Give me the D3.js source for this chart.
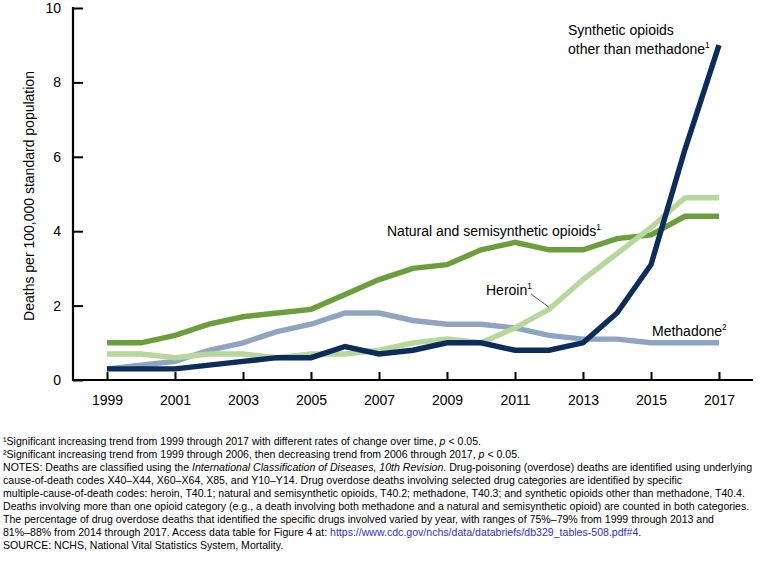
<!DOCTYPE html>
<html>
<head>
<meta charset="utf-8">
<script src="https://cdn.jsdelivr.net/npm/d3@7"></script>
<style>
  html, body { margin: 0; padding: 0; background: #fff; }
  svg { display: block; font-family: "Liberation Sans", Arial, sans-serif; }
</style>
</head>
<body>
<svg id="chart" width="760" height="561"></svg>
<script>
// ---- data ----
const years = [1999,2000,2001,2002,2003,2004,2005,2006,2007,2008,2009,2010,2011,2012,2013,2014,2015,2016,2017];
const methadone = [0.3,0.4,0.5,0.8,1.0,1.3,1.5,1.8,1.8,1.6,1.5,1.5,1.4,1.2,1.1,1.1,1.0,1.0,1.0];
const natural   = [1.0,1.0,1.2,1.5,1.7,1.8,1.9,2.3,2.7,3.0,3.1,3.5,3.7,3.5,3.5,3.8,3.9,4.4,4.4];
const heroin    = [0.7,0.7,0.6,0.7,0.7,0.6,0.7,0.7,0.8,1.0,1.1,1.0,1.4,1.9,2.7,3.4,4.1,4.9,4.9];
const synthetic = [0.3,0.3,0.3,0.4,0.5,0.6,0.6,0.9,0.7,0.8,1.0,1.0,0.8,0.8,1.0,1.8,3.1,6.2,9.0];
const xTickYears = [1999,2001,2003,2005,2007,2009,2011,2013,2015,2017];
const yTickValues = [0,2,4,6,8,10];
const yTitle = "Deaths per 100,000 standard population";
const seriesNames = ["Methadone","Natural and semisynthetic opioids","Heroin","Synthetic opioids other than methadone"];

const footnotes = [
  [["\u00B9Significant increasing trend from 1999 through 2017 with different rates of change over time, ",""],["p","i"],[" < 0.05.",""]],
  [["\u00B2Significant increasing trend from 1999 through 2006, then decreasing trend from 2006 through 2017, ",""],["p","i"],[" < 0.05.",""]],
  [["NOTES: Deaths are classified using the ",""],["International Classification of Diseases, 10th Revision","i"],[". Drug-poisoning (overdose) deaths are identified using underlying",""]],
  [["cause-of-death codes X40\u2013X44, X60\u2013X64, X85, and Y10\u2013Y14. Drug overdose deaths involving selected drug categories are identified by specific",""]],
  [["multiple-cause-of-death codes: heroin, T40.1; natural and semisynthetic opioids, T40.2; methadone, T40.3; and synthetic opioids other than methadone, T40.4.",""]],
  [["Deaths involving more than one opioid category (e.g., a death involving both methadone and a natural and semisynthetic opioid) are counted in both categories.",""]],
  [["The percentage of drug overdose deaths that identified the specific drugs involved varied by year, with ranges of 75%\u201379% from 1999 through 2013 and",""]],
  [["81%\u201388% from 2014 through 2017. Access data table for Figure 4 at: ",""],["https://www.cdc.gov/nchs/data/databriefs/db329_tables-508.pdf#4","l"],[".",""]],
  [["SOURCE: NCHS, National Vital Statistics System, Mortality.",""]]
];

// ---- layout ----
const svg = d3.select("#chart");
const x = d3.scaleLinear().domain([1999, 2017]).range([107, 719]);
const y = d3.scaleLinear().domain([0, 10]).range([380, 8]);
const axisX0 = 73, axisXEnd = 753;

const colors = {
  "Methadone": "#8fa4c0",
  "Natural and semisynthetic opioids": "#6b9f3b",
  "Heroin": "#b7d79c",
  "Synthetic opioids other than methadone": "#0c2c5b"
};
const seriesData = {
  "Methadone": methadone,
  "Natural and semisynthetic opioids": natural,
  "Heroin": heroin,
  "Synthetic opioids other than methadone": synthetic
};

// axes
const yAxis = d3.axisLeft(y).tickValues(yTickValues).tickFormat(d3.format("d"))
  .tickSizeInner(-10).tickSizeOuter(0).tickPadding(12);
const gy = svg.append("g").attr("transform", `translate(${axisX0},0)`).call(yAxis);
gy.select(".domain").remove();
gy.selectAll(".tick line").attr("stroke", "#000").attr("stroke-width", 2);
gy.selectAll(".tick text").attr("font-size", 14).attr("fill", "#000")
  .attr("font-family", "Liberation Sans, Arial, sans-serif");

const xAxis = d3.axisBottom(x).tickValues(xTickYears).tickFormat(d3.format("d"))
  .tickSizeInner(-8).tickSizeOuter(0).tickPadding(15);
const gx = svg.append("g").attr("transform", `translate(0,${y(0)})`).call(xAxis);
gx.select(".domain").remove();
gx.selectAll(".tick line").attr("stroke", "#000").attr("stroke-width", 2);
gx.selectAll(".tick text").attr("font-size", 14).attr("fill", "#000")
  .attr("font-family", "Liberation Sans, Arial, sans-serif");

// axis lines
svg.append("line").attr("x1", axisX0).attr("x2", axisX0).attr("y1", y(10) - 1).attr("y2", y(0) + 1)
  .attr("stroke", "#000").attr("stroke-width", 2.2);
svg.append("line").attr("x1", axisX0 - 1).attr("x2", axisXEnd).attr("y1", y(0)).attr("y2", y(0))
  .attr("stroke", "#000").attr("stroke-width", 2.2);

// y title
svg.append("text").attr("transform", `translate(34,${(y(0) + y(10)) / 2 + 2}) rotate(-90)`)
  .attr("text-anchor", "middle").attr("font-size", 14).attr("fill", "#000").text(yTitle);

// lines
const line = d3.line().x((d, i) => x(years[i])).y(d => y(d));
seriesNames.forEach(name => {
  svg.append("path").datum(seriesData[name])
    .attr("d", line).attr("fill", "none")
    .attr("stroke", colors[name]).attr("stroke-width", 5.4)
    .attr("stroke-linejoin", "miter").attr("stroke-linecap", "butt");
});

// labels
function label(xp, yp, text, sup) {
  const t = svg.append("text").attr("x", xp).attr("y", yp).attr("font-size", 14).attr("fill", "#000");
  t.append("tspan").text(text);
  if (sup) t.append("tspan").attr("font-size", 8.5).attr("dy", -6).text(sup);
  return t;
}
label(568, 35, "Synthetic opioids");
label(568, 54, "other than methadone", "1");
label(387, 236, "Natural and semisynthetic opioids", "1");
label(486, 295, "Heroin", "1");
label(652, 336, "Methadone", "2");
// heroin leader
svg.append("line").attr("x1", 531).attr("y1", 294)
  .attr("x2", x(2012)).attr("y2", y(heroin[13]) - 2)
  .attr("stroke", "#555").attr("stroke-width", 1);

// footnotes
const fg = svg.append("g").attr("transform", "translate(3,0)");
const lineNodes = [];
footnotes.forEach((segs, i) => {
  const t = fg.append("text").attr("x", 0).attr("y", 445 + i * 13)
    .attr("font-size", 10.6).attr("fill", "#000");
  segs.forEach(([s, st]) => {
    const ts = t.append("tspan").text(s);
    if (st === "i") ts.attr("font-style", "italic");
    if (st === "l") ts.attr("fill", "#2f2fd0");
  });
  lineNodes.push(t.node());
});
const w = lineNodes[2].getComputedTextLength();
const k = 749 / w;
fg.attr("transform", `translate(3,0) scale(${k},1)`);
</script>
</body>
</html>
